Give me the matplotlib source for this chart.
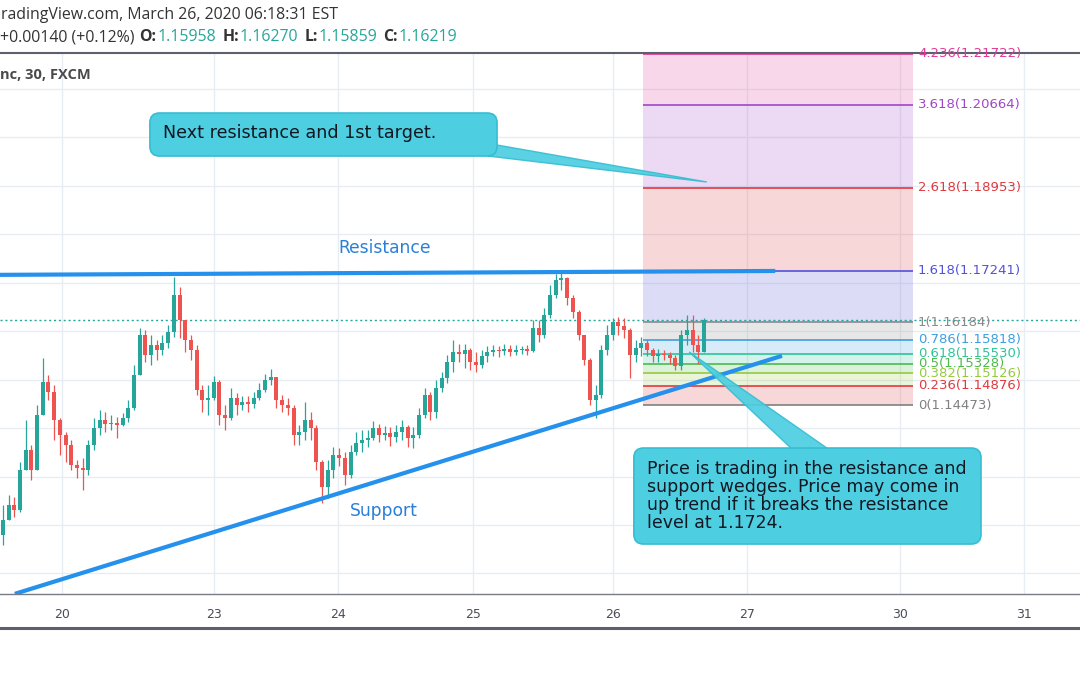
import numpy as np
import matplotlib
matplotlib.use("Agg")
import matplotlib.pyplot as plt
from matplotlib.patches import FancyBboxPatch, Polygon

# EUR/USD candles (one candle per hour)
first_open = 1.1179
closes = [1.1210, 1.1241, 1.1231, 1.1313, 1.1355, 1.1313, 1.1427, 1.1495, 1.1474, 1.1417,
          1.1386, 1.1365, 1.1324, 1.1318, 1.1313, 1.1365, 1.1400, 1.1417, 1.1408, 1.1410,
          1.1406, 1.1421, 1.1441, 1.1509, 1.1592, 1.1551, 1.1571, 1.1561, 1.1575, 1.1598,
          1.1674, 1.1623, 1.1582, 1.1561, 1.1478, 1.1458, 1.1462, 1.1495, 1.1427, 1.1421,
          1.1462, 1.1448, 1.1454, 1.1450, 1.1462, 1.1478, 1.1499, 1.1505, 1.1458, 1.1448,
          1.1441, 1.1386, 1.1392, 1.1417, 1.1400, 1.1330, 1.1278, 1.1313, 1.1344, 1.1338,
          1.1303, 1.1351, 1.1369, 1.1375, 1.1379, 1.1400, 1.1386, 1.1390, 1.1382, 1.1392,
          1.1402, 1.1379, 1.1386, 1.1427, 1.1468, 1.1433, 1.1483, 1.1503, 1.1536, 1.1557,
          1.1553, 1.1561, 1.1536, 1.1530, 1.1549, 1.1557, 1.1561, 1.1559, 1.1563, 1.1557,
          1.1561, 1.1563, 1.1559, 1.1606, 1.1592, 1.1633, 1.1674, 1.1705, 1.1710, 1.1668,
          1.1639, 1.1592, 1.1540, 1.1458, 1.1468, 1.1561, 1.1592, 1.1619, 1.1610, 1.1602,
          1.1551, 1.1565, 1.1575, 1.1561, 1.1549, 1.1553, 1.1551, 1.1544, 1.1528, 1.1592,
          1.1602, 1.1571, 1.1557, 1.1622]
highs = [1.1241, 1.1262, 1.1258, 1.1330, 1.1417, 1.1365, 1.1448, 1.1544, 1.1509, 1.1489,
         1.1421, 1.1392, 1.1375, 1.1334, 1.1338, 1.1375, 1.1421, 1.1437, 1.1433, 1.1427,
         1.1423, 1.1431, 1.1458, 1.1530, 1.1606, 1.1602, 1.1592, 1.1582, 1.1592, 1.1613,
         1.1712, 1.1691, 1.1623, 1.1592, 1.1571, 1.1489, 1.1489, 1.1507, 1.1499, 1.1448,
         1.1483, 1.1472, 1.1466, 1.1466, 1.1474, 1.1493, 1.1511, 1.1522, 1.1505, 1.1468,
         1.1462, 1.1448, 1.1406, 1.1454, 1.1433, 1.1406, 1.1334, 1.1334, 1.1361, 1.1359,
         1.1351, 1.1365, 1.1392, 1.1396, 1.1396, 1.1415, 1.1408, 1.1404, 1.1402, 1.1406,
         1.1417, 1.1406, 1.1402, 1.1441, 1.1483, 1.1474, 1.1499, 1.1516, 1.1551, 1.1582,
         1.1573, 1.1573, 1.1565, 1.1557, 1.1561, 1.1569, 1.1571, 1.1569, 1.1573, 1.1571,
         1.1571, 1.1569, 1.1571, 1.1623, 1.1623, 1.1648, 1.1695, 1.1718, 1.1724, 1.1712,
         1.1674, 1.1644, 1.1592, 1.1544, 1.1489, 1.1571, 1.1613, 1.1627, 1.1629, 1.1627,
         1.1606, 1.1582, 1.1588, 1.1582, 1.1565, 1.1563, 1.1561, 1.1557, 1.1551, 1.1602,
         1.1633, 1.1633, 1.1592, 1.1627]
lows = [1.1159, 1.1210, 1.1217, 1.1227, 1.1313, 1.1293, 1.1313, 1.1427, 1.1458, 1.1375,
        1.1344, 1.1330, 1.1313, 1.1297, 1.1272, 1.1303, 1.1355, 1.1386, 1.1392, 1.1396,
        1.1379, 1.1404, 1.1412, 1.1437, 1.1509, 1.1536, 1.1530, 1.1540, 1.1551, 1.1565,
        1.1588, 1.1586, 1.1557, 1.1540, 1.1468, 1.1433, 1.1427, 1.1458, 1.1406, 1.1396,
        1.1417, 1.1427, 1.1437, 1.1433, 1.1441, 1.1458, 1.1474, 1.1489, 1.1441, 1.1433,
        1.1427, 1.1365, 1.1365, 1.1375, 1.1375, 1.1313, 1.1245, 1.1256, 1.1297, 1.1322,
        1.1283, 1.1297, 1.1344, 1.1351, 1.1361, 1.1375, 1.1371, 1.1375, 1.1363, 1.1371,
        1.1375, 1.1361, 1.1359, 1.1379, 1.1421, 1.1417, 1.1421, 1.1474, 1.1493, 1.1516,
        1.1536, 1.1524, 1.1520, 1.1516, 1.1524, 1.1536, 1.1549, 1.1547, 1.1551, 1.1549,
        1.1551, 1.1553, 1.1551, 1.1557, 1.1578, 1.1586, 1.1627, 1.1668, 1.1685, 1.1654,
        1.1627, 1.1582, 1.1530, 1.1448, 1.1421, 1.1462, 1.1551, 1.1582, 1.1592, 1.1586,
        1.1503, 1.1536, 1.1549, 1.1549, 1.1536, 1.1536, 1.1540, 1.1532, 1.1520, 1.1520,
        1.1571, 1.1557, 1.1532, 1.1557]

day_ticks = [10.4, 37.0, 58.8, 82.5, 107.0, 130.6, 157.4, 179.1]
day_labels = ['20', '23', '24', '25', '26', '27', '30', '31']

fib_ratios = ['0', '0.236', '0.382', '0.5', '0.618', '0.786', '1', '1.618', '2.618', '3.618', '4.236']
fib_prices = [1.14473, 1.14876, 1.15126, 1.15328, 1.15530, 1.15818, 1.16184,
              1.17241, 1.18953, 1.20664, 1.21722]
fib_colors = ['#808080', '#e0393e', '#97c93c', '#4cbb4c', '#2fc49a', '#3d9fe0',
              '#8a8a8a', '#5252d9', '#e0393e', '#a046c8', '#e0399a']
fib_start, fib_end = 112.3, 159.7

resistance_x, resistance_y = [-0.5, 135.5], [1.1716, 1.1724]
support_x, support_y = [2.1, 136.7], [1.1058, 1.1549]
last_close = 1.16219

up_col, down_col = '#26a69a', '#ef5350'
blue = '#2591ec'
grid_col = '#e8edf3'

fig = plt.figure(figsize=(10.8, 6.75), dpi=100)
ax = fig.add_axes([0, 81 / 675, 1, 541 / 675])
ax.set_xlim(-0.5, 188.97)
ax.set_ylim(1.10577, 1.21736)

# grid
ax.set_yticks(np.arange(1.11, 1.2101, 0.01))
ax.set_xticks(day_ticks)
ax.set_xticklabels(day_labels, fontsize=9, color='#4a4d57')
ax.tick_params(axis='x', length=0, pad=10)
ax.tick_params(axis='y', length=0, labelleft=False)
ax.grid(True, color=grid_col, lw=1, zorder=0)
ax.set_axisbelow(True)
for s in ['left', 'right']:
    ax.spines[s].set_visible(False)
ax.spines['top'].set_color('#5d606b')
ax.spines['top'].set_linewidth(1.5)
ax.spines['bottom'].set_color('#787b86')
ax.spines['bottom'].set_linewidth(1)

# fib extension block
for k in range(1, len(fib_prices)):
    ax.fill_between([fib_start, fib_end], fib_prices[k - 1], fib_prices[k],
                    color=fib_colors[k], alpha=0.2, lw=0, zorder=1)
for ratio, p, c in zip(fib_ratios, fib_prices, fib_colors):
    ax.hlines(p, fib_start, fib_end, color=c, lw=1.2, zorder=2)
    ax.text(fib_end + 0.85, p, f'{ratio}({p:.5f})', color=c, fontsize=9.5,
            va='center', ha='left', zorder=6)

# candles
opens = [first_open] + closes[:-1]
xs = np.arange(len(closes))
cols = [up_col if c >= o else down_col for o, c in zip(opens, closes)]
ax.vlines(xs, lows, highs, colors=cols, lw=0.9, zorder=3)
bottoms = [min(o, c) for o, c in zip(opens, closes)]
heights = [max(abs(c - o), 0.00004) for o, c in zip(opens, closes)]
ax.bar(xs, heights, bottom=bottoms, width=0.7, color=cols, lw=0, zorder=3)

# last price line
ax.axhline(last_close, color='#26a69a', lw=1, ls=(0, (1.5, 2)), zorder=2)

# trend lines
ax.plot(resistance_x, resistance_y, color=blue, lw=3, solid_capstyle='butt', zorder=4)
ax.plot(support_x, support_y, color=blue, lw=3, solid_capstyle='butt', zorder=4)
ax.text(67.0, 1.17714, 'Resistance', color='#2a7fd8', fontsize=12.3, ha='center', va='center')
ax.text(66.9, 1.12289, 'Support', color='#2a7fd8', fontsize=12.3, ha='center', va='center',
        bbox=dict(fc='white', ec='none', pad=2))

# callouts
x_per_px = (188.97 + 0.5) / 1080
y_per_px = (1.21736 - 1.10577) / 541
asp = y_per_px / x_per_px
box_fc, box_ec = '#4dcfe1', '#37bdd2'


def callout(x0, x1, y0, y1, tail, text, tx, ty, fs):
    ax.add_patch(Polygon(tail, closed=True, fc=box_fc, ec=box_ec, lw=1, alpha=0.92, zorder=7))
    ax.add_patch(FancyBboxPatch((x0, y0), x1 - x0, y1 - y0,
                                boxstyle='round,pad=0,rounding_size=1.7',
                                mutation_aspect=asp, fc=box_fc, ec=box_ec, lw=1.2, zorder=8))
    ax.text(tx, ty, text, fontsize=fs, color='#131722', ha='left', va='center',
            linespacing=0.98, zorder=9)


callout(25.8, 86.7, 1.19611, 1.20498,
        [(86.7, 1.19838), (85.1, 1.19611), (123.5, 1.19075)],
        'Next resistance and 1st target.', 28.1, 1.20086, 12.6)
callout(110.7, 171.6, 1.11608, 1.13588,
        [(120.4, 1.15570), (138.5, 1.13560), (144.9, 1.13560)],
        'Price is trading in the resistance and\nsupport wedges. Price may come in\n'
        'up trend if it breaks the resistance\nlevel at 1.1724.', 113.0, 1.12600, 12.5)

# header
fig.text(0.001, 1 - 15 / 675, 'radingView.com, March 26, 2020 06:18:31 EST',
         fontsize=11.4, color='#333333', va='center', family='Open Sans')
fig.canvas.draw()
r = fig.canvas.get_renderer()
pieces = [('+0.00140 (+0.12%)', '#333333', 'normal', 5),
          ('O:', '#333333', 'bold', 1), ('1.15958', up_col, 'normal', 6),
          ('H:', '#333333', 'bold', 1), ('1.16270', up_col, 'normal', 6),
          ('L:', '#333333', 'bold', 1), ('1.15859', up_col, 'normal', 6),
          ('C:', '#333333', 'bold', 1), ('1.16219', up_col, 'normal', 0)]
xp = 0.0
for s, c, w, gap in pieces:
    t = fig.text(xp, 1 - 37 / 675, s, fontsize=11.4, color=c, fontweight=w,
                 va='center', family='Open Sans')
    bb = t.get_window_extent(r)
    xp = (bb.x1 + gap) / fig.bbox.width
fig.text(0.0, 1 - 75 / 675, 'nc, 30, FXCM', fontsize=10.5, color='#4a4a4a',
         fontweight='bold', va='center', family='Open Sans')

# bottom bar of the chart panel
fig.add_artist(plt.Line2D([0, 1], [1 - 628 / 675] * 2, color='#5d606b', lw=2.2))

fig.savefig('out.png', dpi=100)
